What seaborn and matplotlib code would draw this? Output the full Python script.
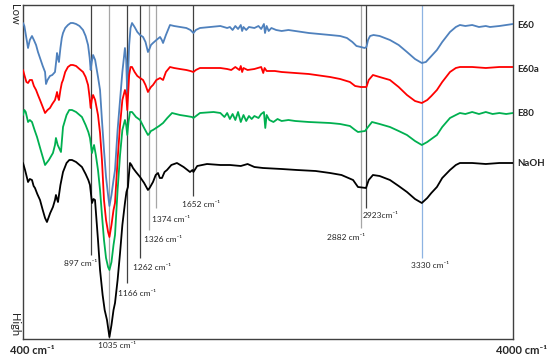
import pandas as pd
import numpy as np
import matplotlib.pyplot as plt
import seaborn as sns

# wavenumber (cm-1) and relative absorbance (larger = further down)
e60_wn = [400, 410, 425, 437, 450, 466, 480, 496, 510, 525, 545, 562, 569, 580, 598, 615, 635, 645, 650, 657,
          664, 675, 685, 694, 710, 730, 750, 767, 790, 815, 841, 860, 878, 890, 897, 905, 915, 930, 951, 966,
          980, 995, 1010, 1025, 1035, 1050, 1065, 1076, 1095, 1113, 1130, 1149, 1158, 1166, 1172, 1180, 1190,
          1201, 1220, 1240, 1260, 1282, 1300, 1318, 1326, 1340, 1355, 1380, 1407, 1420, 1429, 1450, 1480, 1510,
          1553, 1600, 1630, 1652, 1670, 1700, 1774, 1850, 1900, 1920, 1940, 1960, 1980, 2000, 2010, 2020, 2040,
          2060, 2100, 2130, 2150, 2170, 2178, 2190, 2205, 2225, 2260, 2300, 2350, 2400, 2450, 2500, 2580, 2656,
          2730, 2780, 2820, 2850, 2882, 2910, 2923, 2935, 2950, 2975, 3020, 3096, 3160, 3221, 3280, 3330, 3360,
          3400, 3441, 3480, 3537, 3580, 3610, 3650, 3700, 3750, 3800, 3831, 3900, 3950, 4000]
e60_ab = [23, 26, 38, 48, 40, 36, 40, 45, 52, 58, 66, 72, 84, 80, 76, 75, 72, 60, 53, 58,
          62, 48, 38, 33, 28, 25, 23, 23, 24, 26, 30, 36, 45, 58, 70, 62, 55, 60, 77, 90,
          120, 150, 177, 195, 206, 195, 180, 170, 130, 100, 72, 48, 60, 95, 75, 45, 28,
          23, 27, 32, 35, 37, 42, 52, 50, 45, 43, 40, 37, 40, 43, 35, 25, 26,
          27, 28, 30, 33, 30, 28, 27, 26, 28, 27, 30, 26, 29, 25, 31, 27, 30,
          27, 28, 26, 29, 24, 33, 26, 31, 28, 30, 31, 30, 31, 32, 33, 34, 35,
          36, 38, 42, 46, 47, 48, 47, 40, 36, 35, 36, 40, 45, 52, 59, 63, 62,
          56, 50, 42, 32, 27, 25, 26, 25, 27, 26, 27, 26, 25, 24]

e60a_wn = [400, 410, 425, 437, 450, 466, 480, 496, 510, 525, 545, 562, 580, 598, 615, 635, 645, 650, 657, 664,
           675, 685, 694, 710, 730, 750, 767, 790, 815, 841, 860, 878, 890, 897, 905, 915, 930, 951, 966, 980,
           995, 1010, 1025, 1035, 1050, 1065, 1076, 1095, 1113, 1130, 1149, 1158, 1166, 1172, 1180, 1190, 1201,
           1220, 1240, 1260, 1282, 1300, 1318, 1326, 1340, 1355, 1380, 1407, 1429, 1450, 1480, 1510, 1553, 1600,
           1630, 1652, 1670, 1700, 1774, 1850, 1900, 1930, 1960, 1990, 2000, 2010, 2020, 2050, 2100, 2150, 2165,
           2175, 2190, 2250, 2300, 2400, 2500, 2656, 2730, 2802, 2840, 2882, 2923, 2940, 2971, 3020, 3096, 3160,
           3221, 3280, 3330, 3370, 3400, 3441, 3480, 3537, 3580, 3610, 3700, 3800, 3900, 4000]
e60a_ab = [70, 75, 82, 83, 80, 80, 86, 90, 95, 100, 107, 113, 110, 108, 104, 100, 95, 92, 97, 100,
           90, 83, 80, 72, 67, 65, 65, 66, 69, 72, 77, 85, 98, 108, 100, 95, 100, 115, 133, 160,
           200, 220, 232, 237, 225, 210, 203, 160, 125, 100, 90, 95, 110, 95, 75, 67, 67,
           72, 76, 78, 80, 85, 92, 90, 87, 85, 80, 78, 80, 72, 67, 68, 69, 70,
           71, 72, 70, 68, 68, 68, 69, 70, 67, 70, 66, 72, 68, 70, 69, 67, 73,
           68, 71, 71, 72, 73, 74, 77, 79, 82, 86, 87, 87, 80, 75, 77, 80, 87,
           95, 101, 103, 100, 96, 90, 82, 72, 68, 67, 67, 68, 67, 67]

e80_wn = [400, 410, 420, 437, 450, 466, 485, 503, 530, 562, 590, 620, 635, 642, 655, 679, 694, 720, 740, 760,
          790, 833, 860, 880, 892, 907, 915, 922, 935, 951, 966, 980, 995, 1010, 1025, 1035, 1050, 1065, 1076,
          1095, 1113, 1130, 1149, 1158, 1166, 1175, 1186, 1201, 1230, 1260, 1290, 1318, 1326, 1340, 1355, 1400,
          1429, 1460, 1495, 1553, 1600, 1642, 1652, 1700, 1800, 1850, 1880, 1900, 1920, 1940, 1960, 1980, 2000,
          2020, 2040, 2060, 2080, 2100, 2130, 2150, 2170, 2180, 2190, 2210, 2240, 2270, 2300, 2350, 2400, 2500,
          2656, 2730, 2802, 2840, 2861, 2913, 2935, 2964, 3020, 3096, 3160, 3221, 3280, 3330, 3370, 3400, 3441,
          3480, 3537, 3580, 3610, 3650, 3700, 3750, 3800, 3850, 3900, 3950, 4000]
e80_ab = [115, 110, 112, 122, 120, 122, 130, 137, 150, 165, 160, 153, 145, 138, 145, 152, 127, 115, 110, 110,
          112, 117, 125, 132, 138, 153, 148, 145, 155, 170, 190, 215, 240, 258, 267, 270, 262, 245, 235,
          190, 155, 130, 120, 125, 135, 122, 112, 112, 117, 120, 128, 135, 134, 131, 130, 126,
          123, 118, 113, 115, 116, 117, 118, 113, 112, 113, 117, 113, 119, 114, 120, 112, 122,
          115, 121, 116, 119, 116, 118, 114, 112, 128, 115, 120, 122, 119, 121, 120, 121, 122,
          123, 124, 126, 130, 132, 131, 127, 122, 124, 127, 131, 135, 141, 145, 142, 139, 135,
          127, 118, 115, 113, 114, 112, 114, 112, 114, 113, 114, 113]

naoh_wn = [400, 415, 437, 450, 466, 478, 488, 505, 525, 545, 562, 576, 600, 620, 635, 642, 650, 657, 675, 694,
           720, 740, 760, 790, 833, 860, 880, 892, 907, 918, 929, 951, 966, 985, 1000, 1017, 1035, 1050, 1065,
           1076, 1095, 1113, 1130, 1149, 1160, 1171, 1178, 1186, 1197, 1208, 1230, 1260, 1290, 1318, 1330, 1355,
           1375, 1392, 1405, 1421, 1440, 1458, 1490, 1531, 1580, 1627, 1645, 1652, 1680, 1752, 1850, 1921, 2000,
           2050, 2100, 2163, 2300, 2413, 2550, 2656, 2740, 2825, 2861, 2920, 2940, 2971, 3020, 3096, 3160, 3221,
           3280, 3330, 3370, 3400, 3441, 3480, 3537, 3580, 3610, 3700, 3800, 3900, 4000]
naoh_ab = [163, 170, 182, 179, 180, 186, 188, 194, 200, 210, 218, 222, 213, 207, 200, 195, 199, 202, 185, 172,
           163, 160, 160, 162, 167, 174, 180, 185, 203, 199, 200, 240, 270, 295, 310, 320, 337, 325, 310,
           303, 280, 253, 225, 203, 192, 187, 175, 163, 165, 168, 172, 177, 183, 190, 188, 182,
           175, 173, 178, 178, 172, 170, 165, 163, 167, 172, 170, 172, 166, 164, 165, 165, 166,
           164, 167, 168, 169, 170, 171, 173, 175, 180, 187, 188, 180, 175, 176, 180, 186, 192,
           199, 203, 198, 193, 187, 178, 170, 165, 163, 163, 164, 163, 163]

samples = ['E60', 'E60a', 'E80', 'NaOH']
colors = ['#4F81BD', '#FF0000', '#00B050', '#000000']
label_y = [25, 69, 113, 163]

# marked bands: position, line colour, where the line stops, label centre x/y
peaks = [897, 1035, 1166, 1262, 1326, 1374, 1652, 2882, 2923, 3330]
peak_text = ['897 cm⁻¹', '1035 cm⁻¹', '1166 cm⁻¹', '1262 cm⁻¹', '1326 cm⁻¹', '1374 cm⁻¹',
             '1652 cm⁻¹', '2882 cm⁻¹', '2923cm⁻¹', '3330 cm⁻¹']
peak_color = ['#404040', '#A6A6A6', '#404040', '#404040', '#A6A6A6', '#A6A6A6',
              '#404040', '#A6A6A6', '#404040', '#8DB3E2']
line_end = [255, 339, 283, 258, 230, 208, 196, 228, 208, 258]
text_x = [826, 1091, 1238, 1348, 1429, 1487, 1708, 2773, 3030, 3390]
text_y = [263, 345, 293, 268, 239, 219, 204, 237, 215, 265]

frames = []
for name, wn, ab in zip(samples, [e60_wn, e60a_wn, e80_wn, naoh_wn], [e60_ab, e60a_ab, e80_ab, naoh_ab]):
    frames.append(pd.DataFrame({'wn': wn, 'ab': ab, 'sample': name}))
df = pd.concat(frames)

sns.set_style('white')
plt.rcParams['font.family'] = ['Lato', 'DejaVu Sans']

fig = plt.figure(figsize=(5.54, 3.56), dpi=100)
ax = fig.add_axes([23 / 554, 17 / 356, 490 / 554, 334 / 356])

for wn, c, end in zip(peaks, peak_color, line_end):
    ax.vlines(wn, 5, end, color=c, linewidth=0.9, zorder=1, clip_on=False)

sns.lineplot(data=df, x='wn', y='ab', hue='sample', palette=dict(zip(samples, colors)),
             estimator=None, linewidth=1.3, legend=False, ax=ax, zorder=3)

ax.set_xlim(400, 4000)
ax.set_ylim(339, 5)
ax.set_xticks([])
ax.set_yticks([])
ax.set_xlabel('')
ax.set_ylabel('')
for s in ax.spines.values():
    s.set_color('#404040')
    s.set_linewidth(1.0)

for name, y in zip(samples, label_y):
    ax.annotate(name, xy=(1, y), xycoords=('axes fraction', 'data'), xytext=(3, 0),
                textcoords='offset points', ha='left', va='center', fontsize=7, fontweight='bold')

for tx, ty, t in zip(text_x, text_y, peak_text):
    ax.text(tx, ty, t, fontsize=6, ha='center', va='center', clip_on=False)

fig.text(32 / 554, 1 - 350 / 356, '400 cm⁻¹', fontsize=8, fontweight='bold', ha='center', va='center')
fig.text(522 / 554, 1 - 350 / 356, '4000 cm⁻¹', fontsize=8, fontweight='bold', ha='center', va='center')
fig.text(14 / 554, 1 - 14 / 356, 'Low', fontsize=8, rotation=270, ha='center', va='center')
fig.text(14 / 554, 1 - 325 / 356, 'High', fontsize=8, rotation=270, ha='center', va='center')

plt.savefig('out.png', dpi=100)
plt.close()
